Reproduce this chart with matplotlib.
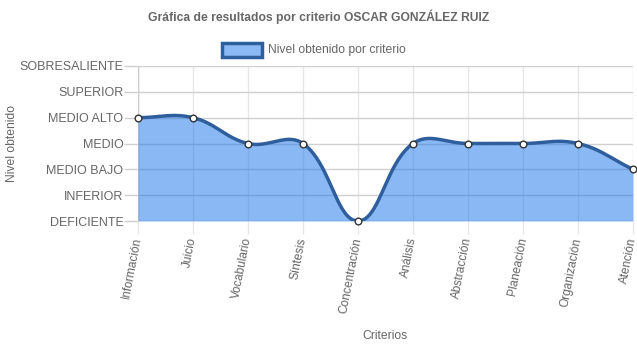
import matplotlib
matplotlib.use('Agg')
import matplotlib.pyplot as plt
from matplotlib.patches import Rectangle
import numpy as np

plt.rcParams['font.family'] = ['Liberation Sans', 'DejaVu Sans']

# data
criterios = ['Información', 'Juicio', 'Vocabulario', 'Síntesis', 'Concentración',
             'Análisis', 'Abstracción', 'Planeación', 'Organización', 'Atención']
niveles = ['DEFICIENTE', 'INFERIOR', 'MEDIO BAJO', 'MEDIO', 'MEDIO ALTO',
           'SUPERIOR', 'SOBRESALIENTE']
valores = [4, 4, 3, 3, 0, 3, 3, 3, 3, 2]

fill_col = (21 / 255, 115 / 255, 235 / 255, 0.5)
legend_fill = '#8ab9f5'
line_col = '#2e5f9c'
hgrid_col = '#d0d0d0'
vgrid_col = '#e6e6e6'
text_col = '#666666'

fig = plt.figure(figsize=(6.37, 3.48), dpi=100)
ax = fig.add_axes([138 / 637, 1 - 221 / 348, 495 / 637, 155 / 348])

# chart.js-like bezier (tension 0.4), computed in pixel space
xs = np.arange(len(valores), dtype=float)
ys = np.array(valores, dtype=float)
sx, sy = 495 / 9, 155 / 6
px, py = xs * sx, ys * sy
t = 0.4
n = len(px)
cp_prev = np.zeros((n, 2))
cp_next = np.zeros((n, 2))
for i in range(n):
    p0 = (px[max(i - 1, 0)], py[max(i - 1, 0)])
    p1 = (px[i], py[i])
    p2 = (px[min(i + 1, n - 1)], py[min(i + 1, n - 1)])
    d01 = np.hypot(p1[0] - p0[0], p1[1] - p0[1])
    d12 = np.hypot(p2[0] - p1[0], p2[1] - p1[1])
    tot = d01 + d12
    s01 = d01 / tot if tot else 0
    s12 = d12 / tot if tot else 0
    fa, fb = t * s01, t * s12
    cp_prev[i] = (p1[0] - fa * (p2[0] - p0[0]), p1[1] - fa * (p2[1] - p0[1]))
    cp_next[i] = (p1[0] + fb * (p2[0] - p0[0]), p1[1] + fb * (p2[1] - p0[1]))
# cap control points to chart area
for cp in (cp_prev, cp_next):
    cp[:, 0] = np.clip(cp[:, 0], 0, px[-1])
    cp[:, 1] = np.clip(cp[:, 1], 0, 6 * sy)

cx, cy = [], []
u = np.linspace(0, 1, 40)
for i in range(n - 1):
    P0 = np.array([px[i], py[i]])
    P1 = cp_next[i]
    P2 = cp_prev[i + 1]
    P3 = np.array([px[i + 1], py[i + 1]])
    b = ((1 - u) ** 3)[:, None] * P0 + (3 * (1 - u) ** 2 * u)[:, None] * P1 \
        + (3 * (1 - u) * u ** 2)[:, None] * P2 + (u ** 3)[:, None] * P3
    cx.extend(b[:, 0] / sx)
    cy.extend(b[:, 1] / sy)
cx, cy = np.array(cx), np.array(cy)

ax.fill_between(cx, 0, cy, color=fill_col, zorder=2, lw=0)
ax.plot(cx, cy, color=line_col, lw=2.5, zorder=3, solid_capstyle='round')
ax.plot(xs, ys, 'o', ms=4.8, mfc='white', mec='#333333', mew=1, zorder=4, clip_on=False)

ax.set_xlim(0, 9)
ax.set_ylim(0, 6)
ax.set_xticks(xs)
ax.set_xticklabels(criterios, rotation=79, ha='right', va='center',
                   rotation_mode='anchor', color=text_col, fontsize=8.6)
ax.set_yticks(range(len(niveles)))
ax.set_yticklabels(niveles, color=text_col, fontsize=9.0)
ax.tick_params(axis='x', length=9, color=vgrid_col, width=1, pad=3)
ax.tick_params(axis='y', length=10, color=hgrid_col, width=1, pad=0.5)
ax.grid(True, axis='x', color=vgrid_col, lw=1, zorder=0)
ax.grid(True, axis='y', color=hgrid_col, lw=1, zorder=0)
ax.set_axisbelow(True)
for s in ax.spines.values():
    s.set_visible(False)
ax.axvline(0, color='#cccccc', lw=1, zorder=1)
ax.axhline(0, color='#cccccc', lw=1, zorder=1)

fig.text(319 / 637, 1 - 17 / 348, 'Gráfica de resultados por criterio OSCAR GONZÁLEZ RUIZ',
         ha='center', va='center', fontsize=8.7, fontweight='bold', color=text_col)
fig.patches.append(Rectangle((222 / 637, 1 - 57 / 348), 40 / 637, 14 / 348,
                             transform=fig.transFigure, facecolor=legend_fill,
                             edgecolor=line_col, lw=2.5, figure=fig))
fig.text(268 / 637, 1 - 49.5 / 348, 'Nivel obtenido por criterio', ha='left', va='center',
         fontsize=8.7, color=text_col)
fig.text(12 / 637, 1 - 143 / 348, 'Nivel obtenido', rotation=90, ha='center', va='center',
         fontsize=8.7, color=text_col)
fig.text(385 / 637, 1 - 336 / 348, 'Criterios', ha='center', va='center',
         fontsize=8.7, color=text_col)

fig.savefig('out.png', dpi=100)
